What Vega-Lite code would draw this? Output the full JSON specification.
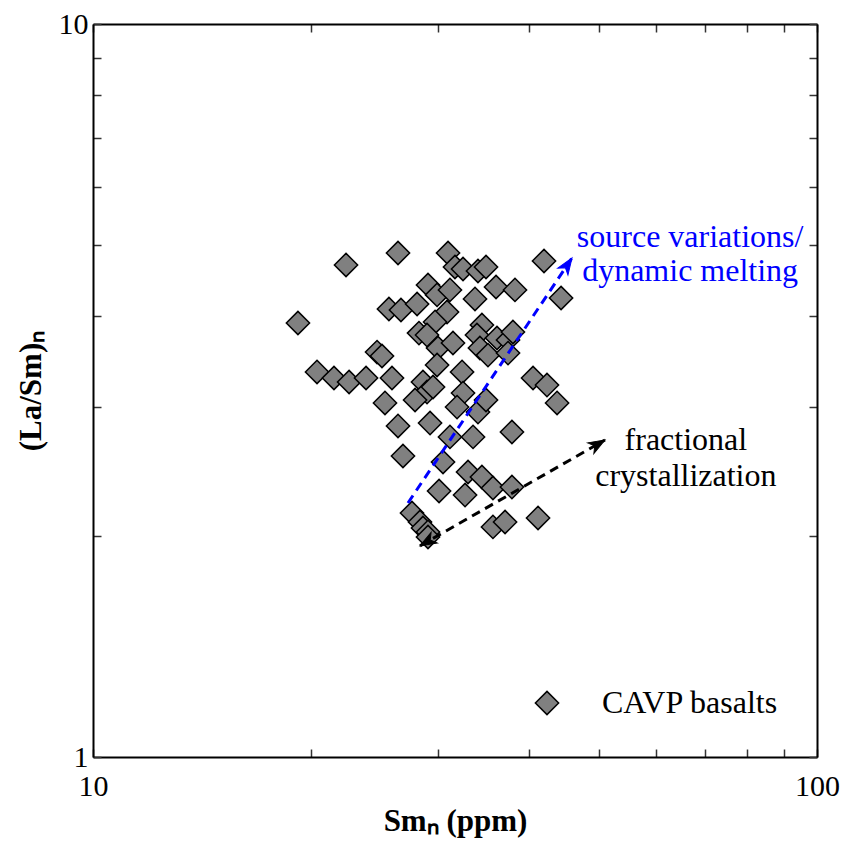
{
  "$schema": "https://vega.github.io/schema/vega-lite/v6.json",
  "width": 724,
  "height": 733,
  "autosize": {"type": "none"},
  "padding": {"left": 93, "top": 24, "right": 26, "bottom": 86},
  "background": "white",
  "config": {
    "view": {"stroke": null},
    "font": "Liberation Serif",
    "axis": {
      "grid": false,
      "domainColor": "black",
      "domainWidth": 2,
      "tickColor": "#333333",
      "tickWidth": 1.5,
      "tickSize": -8,
      "labelFont": "Liberation Serif",
      "labelFontSize": 30,
      "labelColor": "black",
      "labelFlush": false,
      "labelOverlap": false,
      "titleFont": "Liberation Serif",
      "titleFontSize": 31,
      "titleColor": "black",
      "titleFontWeight": "bold"
    },
    "legend": {"symbolStrokeWidth": 1.5}
  },
  "datasets": {
    "basalts": [
      {"Sm": 19.19, "LaSm": 3.909, "group": "CAVP basalts"},
      {"Sm": 20.39, "LaSm": 3.352, "group": "CAVP basalts"},
      {"Sm": 21.52, "LaSm": 3.289, "group": "CAVP basalts"},
      {"Sm": 22.58, "LaSm": 3.248, "group": "CAVP basalts"},
      {"Sm": 23.83, "LaSm": 3.289, "group": "CAVP basalts"},
      {"Sm": 22.36, "LaSm": 4.691, "group": "CAVP basalts"},
      {"Sm": 26.38, "LaSm": 4.871, "group": "CAVP basalts"},
      {"Sm": 24.68, "LaSm": 3.568, "group": "CAVP basalts"},
      {"Sm": 25.07, "LaSm": 3.524, "group": "CAVP basalts"},
      {"Sm": 25.63, "LaSm": 4.085, "group": "CAVP basalts"},
      {"Sm": 26.63, "LaSm": 4.072, "group": "CAVP basalts"},
      {"Sm": 28.03, "LaSm": 4.150, "group": "CAVP basalts"},
      {"Sm": 25.88, "LaSm": 3.289, "group": "CAVP basalts"},
      {"Sm": 28.56, "LaSm": 3.248, "group": "CAVP basalts"},
      {"Sm": 28.93, "LaSm": 3.147, "group": "CAVP basalts"},
      {"Sm": 29.49, "LaSm": 3.197, "group": "CAVP basalts"},
      {"Sm": 25.31, "LaSm": 3.041, "group": "CAVP basalts"},
      {"Sm": 27.85, "LaSm": 3.069, "group": "CAVP basalts"},
      {"Sm": 26.38, "LaSm": 2.829, "group": "CAVP basalts"},
      {"Sm": 26.80, "LaSm": 2.574, "group": "CAVP basalts"},
      {"Sm": 27.58, "LaSm": 2.152, "group": "CAVP basalts"},
      {"Sm": 28.29, "LaSm": 2.092, "group": "CAVP basalts"},
      {"Sm": 28.56, "LaSm": 2.053, "group": "CAVP basalts"},
      {"Sm": 29.02, "LaSm": 2.028, "group": "CAVP basalts"},
      {"Sm": 29.02, "LaSm": 1.996, "group": "CAVP basalts"},
      {"Sm": 28.20, "LaSm": 3.787, "group": "CAVP basalts"},
      {"Sm": 29.02, "LaSm": 4.405, "group": "CAVP basalts"},
      {"Sm": 30.93, "LaSm": 4.871, "group": "CAVP basalts"},
      {"Sm": 31.62, "LaSm": 4.661, "group": "CAVP basalts"},
      {"Sm": 32.44, "LaSm": 4.632, "group": "CAVP basalts"},
      {"Sm": 34.02, "LaSm": 4.603, "group": "CAVP basalts"},
      {"Sm": 34.90, "LaSm": 4.661, "group": "CAVP basalts"},
      {"Sm": 29.87, "LaSm": 4.270, "group": "CAVP basalts"},
      {"Sm": 31.12, "LaSm": 4.337, "group": "CAVP basalts"},
      {"Sm": 33.70, "LaSm": 4.216, "group": "CAVP basalts"},
      {"Sm": 36.03, "LaSm": 4.377, "group": "CAVP basalts"},
      {"Sm": 38.27, "LaSm": 4.337, "group": "CAVP basalts"},
      {"Sm": 41.97, "LaSm": 4.750, "group": "CAVP basalts"},
      {"Sm": 44.31, "LaSm": 4.229, "group": "CAVP basalts"},
      {"Sm": 30.83, "LaSm": 4.046, "group": "CAVP basalts"},
      {"Sm": 29.68, "LaSm": 3.922, "group": "CAVP basalts"},
      {"Sm": 28.93, "LaSm": 3.764, "group": "CAVP basalts"},
      {"Sm": 29.96, "LaSm": 3.614, "group": "CAVP basalts"},
      {"Sm": 31.42, "LaSm": 3.671, "group": "CAVP basalts"},
      {"Sm": 34.45, "LaSm": 3.885, "group": "CAVP basalts"},
      {"Sm": 33.91, "LaSm": 3.764, "group": "CAVP basalts"},
      {"Sm": 34.23, "LaSm": 3.614, "group": "CAVP basalts"},
      {"Sm": 35.12, "LaSm": 3.534, "group": "CAVP basalts"},
      {"Sm": 36.14, "LaSm": 3.729, "group": "CAVP basalts"},
      {"Sm": 37.43, "LaSm": 3.706, "group": "CAVP basalts"},
      {"Sm": 38.02, "LaSm": 3.800, "group": "CAVP basalts"},
      {"Sm": 37.43, "LaSm": 3.557, "group": "CAVP basalts"},
      {"Sm": 29.87, "LaSm": 3.426, "group": "CAVP basalts"},
      {"Sm": 32.34, "LaSm": 3.352, "group": "CAVP basalts"},
      {"Sm": 40.53, "LaSm": 3.289, "group": "CAVP basalts"},
      {"Sm": 42.37, "LaSm": 3.217, "group": "CAVP basalts"},
      {"Sm": 43.75, "LaSm": 3.041, "group": "CAVP basalts"},
      {"Sm": 32.44, "LaSm": 3.137, "group": "CAVP basalts"},
      {"Sm": 31.83, "LaSm": 3.002, "group": "CAVP basalts"},
      {"Sm": 34.02, "LaSm": 2.955, "group": "CAVP basalts"},
      {"Sm": 34.90, "LaSm": 3.069, "group": "CAVP basalts"},
      {"Sm": 29.21, "LaSm": 2.855, "group": "CAVP basalts"},
      {"Sm": 31.12, "LaSm": 2.733, "group": "CAVP basalts"},
      {"Sm": 33.49, "LaSm": 2.733, "group": "CAVP basalts"},
      {"Sm": 37.90, "LaSm": 2.776, "group": "CAVP basalts"},
      {"Sm": 30.44, "LaSm": 2.526, "group": "CAVP basalts"},
      {"Sm": 32.96, "LaSm": 2.448, "group": "CAVP basalts"},
      {"Sm": 34.45, "LaSm": 2.410, "group": "CAVP basalts"},
      {"Sm": 35.68, "LaSm": 2.328, "group": "CAVP basalts"},
      {"Sm": 37.90, "LaSm": 2.335, "group": "CAVP basalts"},
      {"Sm": 30.06, "LaSm": 2.306, "group": "CAVP basalts"},
      {"Sm": 32.65, "LaSm": 2.277, "group": "CAVP basalts"},
      {"Sm": 41.18, "LaSm": 2.119, "group": "CAVP basalts"},
      {"Sm": 35.68, "LaSm": 2.060, "group": "CAVP basalts"},
      {"Sm": 37.08, "LaSm": 2.092, "group": "CAVP basalts"}
    ],
    "arrows": [
      {"arrow": "source", "step": 1, "Sm": 27.23, "LaSm": 2.221},
      {"arrow": "source", "step": 2, "Sm": 45.88, "LaSm": 4.795},
      {"arrow": "fc", "step": 1, "Sm": 28.29, "LaSm": 1.941},
      {"arrow": "fc", "step": 2, "Sm": 50.95, "LaSm": 2.707}
    ],
    "labels": [
      {"arrow": "source", "text": "source variations/", "Sm": 66.8, "LaSm": 5.122},
      {"arrow": "source", "text": "dynamic melting", "Sm": 66.8, "LaSm": 4.603},
      {"arrow": "fc", "text": "fractional", "Sm": 65.9, "LaSm": 2.707},
      {"arrow": "fc", "text": "crystallization", "Sm": 65.9, "LaSm": 2.416}
    ]
  },
  "layer": [
    {
      "data": {"name": "basalts"},
      "mark": {"type": "point", "filled": true, "strokeWidth": 1.5, "size": 540, "opacity": 1},
      "encoding": {
        "x": {
          "field": "Sm", "type": "quantitative",
          "scale": {"type": "log", "domain": [10, 100], "nice": false},
          "axis": {"orient": "bottom", "values": [10, 20, 30, 40, 50, 60, 70, 80, 90, 100],
            "labelExpr": "datum.value == 10 || datum.value == 100 ? datum.label : ''",
            "title": "Smₙ (ppm)", "labelPadding": 22, "titlePadding": 5}
        },
        "y": {
          "field": "LaSm", "type": "quantitative",
          "scale": {"type": "log", "domain": [1, 10], "nice": false},
          "axis": {"orient": "left", "values": [1, 2, 3, 4, 5, 6, 7, 8, 9, 10],
            "labelExpr": "datum.value == 1 || datum.value == 10 ? datum.label : ''",
            "title": "(La/Sm)ₙ", "labelPadding": 13, "titlePadding": 11}
        },
        "shape": {
          "field": "group", "type": "nominal",
          "scale": {"range": ["diamond"]},
          "legend": {"orient": "none", "legendX": 438, "legendY": 663, "title": null, "padding": 0,
            "labelFont": "Liberation Serif", "labelFontSize": 32, "labelColor": "black", "labelLimit": 400,
            "labelOffset": 39, "symbolSize": 540, "symbolStrokeWidth": 1.5, "symbolOpacity": 1}
        },
        "fill": {
          "field": "group", "type": "nominal",
          "scale": {"range": ["#808080"]},
          "legend": {"orient": "none", "legendX": 438, "legendY": 663, "title": null, "padding": 0,
            "labelFont": "Liberation Serif", "labelFontSize": 32, "labelColor": "black", "labelLimit": 400,
            "labelOffset": 39, "symbolSize": 540, "symbolStrokeWidth": 1.5, "symbolOpacity": 1}
        },
        "stroke": {
          "field": "group", "type": "nominal",
          "scale": {"range": ["black"]},
          "legend": {"orient": "none", "legendX": 438, "legendY": 663, "title": null, "padding": 0,
            "labelFont": "Liberation Serif", "labelFontSize": 32, "labelColor": "black", "labelLimit": 400,
            "labelOffset": 39, "symbolSize": 540, "symbolStrokeWidth": 1.5, "symbolOpacity": 1}
        }
      }
    },
    {
      "data": {"name": "arrows"},
      "mark": {"type": "line", "strokeDash": [9, 6], "strokeWidth": 3},
      "encoding": {
        "x": {"field": "Sm", "type": "quantitative", "axis": {"orient": "top", "values": [10, 20, 30, 40, 50, 60, 70, 80, 90, 100], "labels": false, "title": null}},
        "y": {"field": "LaSm", "type": "quantitative", "axis": {"orient": "right", "values": [1, 2, 3, 4, 5, 6, 7, 8, 9, 10], "labels": false, "title": null}},
        "order": {"field": "step", "type": "quantitative"},
        "detail": {"field": "arrow", "type": "nominal"},
        "color": {"field": "arrow", "type": "nominal", "scale": {"domain": ["source", "fc"], "range": ["#0000ff", "black"]}, "legend": null}
      }
    },
    {
      "data": {"name": "arrows"},
      "transform": [{"filter": "datum.arrow == 'source' && datum.step == 2"}],
      "mark": {"type": "point", "shape": "M0,0L0.6,1.6L0,1.15L-0.6,1.6Z", "filled": true, "fill": "#0000ff", "stroke": "#0000ff", "strokeWidth": 1, "size": 420, "angle": 34, "opacity": 1},
      "encoding": {
        "x": {"field": "Sm", "type": "quantitative", "axis": null},
        "y": {"field": "LaSm", "type": "quantitative", "axis": null}
      }
    },
    {
      "data": {"name": "arrows"},
      "transform": [{"filter": "datum.arrow == 'fc' && datum.step == 2"}],
      "mark": {"type": "point", "shape": "M0,0L0.6,1.6L0,1.15L-0.6,1.6Z", "filled": true, "fill": "black", "stroke": "black", "strokeWidth": 1, "size": 420, "angle": 60, "opacity": 1},
      "encoding": {
        "x": {"field": "Sm", "type": "quantitative", "axis": null},
        "y": {"field": "LaSm", "type": "quantitative", "axis": null}
      }
    },
    {
      "data": {"name": "arrows"},
      "transform": [{"filter": "datum.arrow == 'fc' && datum.step == 1"}],
      "mark": {"type": "point", "shape": "M0,0L0.6,1.6L0,1.15L-0.6,1.6Z", "filled": true, "fill": "black", "stroke": "black", "strokeWidth": 1, "size": 420, "angle": 240, "opacity": 1},
      "encoding": {
        "x": {"field": "Sm", "type": "quantitative", "axis": null},
        "y": {"field": "LaSm", "type": "quantitative", "axis": null}
      }
    },
    {
      "data": {"name": "labels"},
      "mark": {"type": "text", "font": "Liberation Serif", "fontSize": 32, "align": "center", "baseline": "middle"},
      "encoding": {
        "x": {"field": "Sm", "type": "quantitative", "axis": null},
        "y": {"field": "LaSm", "type": "quantitative", "axis": null},
        "text": {"field": "text", "type": "nominal"},
        "color": {"field": "arrow", "type": "nominal", "legend": null}
      }
    }
  ],
  "resolve": {"axis": {"x": "independent", "y": "independent"}}
}
